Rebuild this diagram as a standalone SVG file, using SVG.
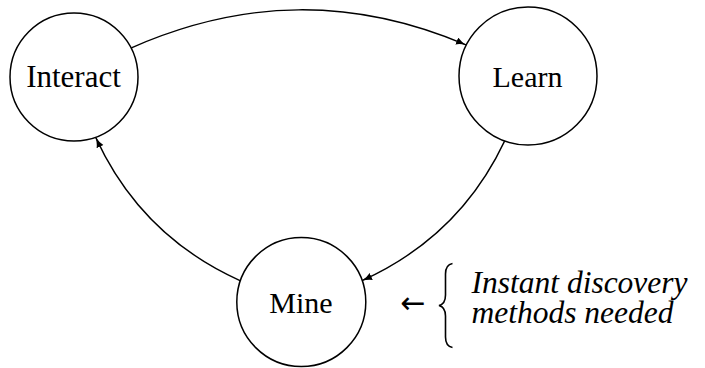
<svg xmlns="http://www.w3.org/2000/svg" width="705" height="368" viewBox="0 0 705 368">
<style>
.node { fill: #ffffff; stroke: #000000; stroke-width: 1.5; }
.lbl { fill: #000000; text-anchor: middle; }
.edge { fill: none; stroke: #000000; stroke-width: 1.4; marker-end: url(#arr); }
.note { font-style: italic; fill: #000000; }
</style>
<defs>
<marker id="arr" markerUnits="userSpaceOnUse" markerWidth="12" markerHeight="9" refX="10" refY="3.75" orient="auto">
<path d="M0,0 Q4,2.6 10,3.75 Q4,4.9 0,7.5 Z" fill="#000000"/>
</marker>
</defs>
<rect width="705" height="368" fill="#ffffff"/>
<g id="connectors">
<path class="edge" d="M131.4,47.8 C244,-1.7 353.4,-3 466,44.9"/>
<path class="edge" d="M504.7,140.9 C474.3,205.4 427.4,251.1 362.1,280.6"/>
<path class="edge" d="M240.5,280.8 C173.9,250.9 126.3,203.9 95.8,137.6"/>
</g>
<g id="interact">
<circle class="node" cx="74" cy="77" r="64"/>
<text class="lbl" font-family="Liberation Serif" font-size="31" x="73.5" y="86.5">Interact</text>
</g>
<g id="learn">
<circle class="node" cx="528" cy="76" r="69"/>
<text class="lbl" font-family="Liberation Serif" font-size="30" x="527.5" y="86.5">Learn</text>
</g>
<g id="mine">
<circle class="node" cx="301.3" cy="302" r="64.5"/>
<text class="lbl" font-family="Liberation Serif" font-size="30" x="301" y="313">Mine</text>
</g>
<g id="annotation">
<text x="400.5" y="313" font-family="DejaVu Sans" font-size="30">←</text>
<path d="M452.5,263.5 C447,264.5 445.5,268 445.5,274 L445.5,295 C445.5,300.5 443,304.5 439,305.5 C443,306.5 445.5,310.5 445.5,316 L445.5,337 C445.5,343 447,346.5 452.5,347.5" fill="none" stroke="#000000" stroke-width="1.6"/>
<text class="note" font-family="Liberation Serif" font-size="31.5" x="471.5" y="293">Instant discovery</text>
<text class="note" font-family="Liberation Serif" font-size="31.5" x="471.5" y="323">methods needed</text>
</g>
</svg>
